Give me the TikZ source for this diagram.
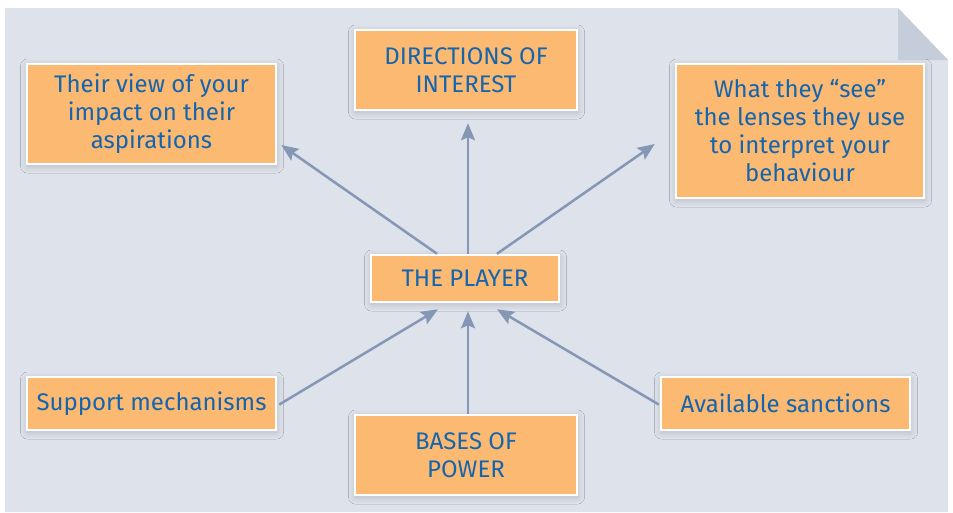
\documentclass[tikz,border=0pt]{standalone}
\usepackage{fontspec}
\setmainfont{Fira Sans}
\usepackage{tikz}
\usetikzlibrary{arrows.meta}
\usetikzlibrary{shadows.blur}
\definecolor{panel}{HTML}{DEE2EB}
\definecolor{fold}{HTML}{C6CDDA}
\definecolor{boxfill}{HTML}{FBB971}
\definecolor{boxtext}{HTML}{1565AE}
\definecolor{arrcol}{HTML}{8497B5}
\tikzset{box/.style = {fill=boxfill, draw=white, line width=2.5pt, text=boxtext,
                       align=center, inner sep=0, font=\fontsize{24}{28}\selectfont,
                       blur shadow={shadow xshift=0.5pt, shadow yshift=-2pt,
                                    shadow blur radius=7pt, shadow blur steps=16,
                                    shadow opacity=18}}}
\tikzset{arr/.style = {draw=arrcol, line width=2.5pt,
                       -{Stealth[length=17pt, width=14pt, inset=3pt]}}}

\begin{document}
\begin{tikzpicture}[x=1pt, y=-1pt]
      \useasboundingbox (0, 0) rectangle (953, 512);
      \fill [panel] (5, 8) -- (898, 8) -- (948, 60) -- (948, 512) -- (5, 512) -- cycle;
      \fill [fold] (898, 8) -- (898, 60) -- (948, 60) -- cycle;

      \node [box, minimum width=249, minimum height=100] (view) at (151.5, 114)
            {Their view of your\\impact on their\\aspirations};
      \node [box, minimum width=222, minimum height=80] (dirs) at (466, 70)
            {DIRECTIONS OF\\INTEREST};
      \node [box, minimum width=248, minimum height=134] (see) at (800, 131)
            {What they “see”\\the lenses they use\\to interpret your\\behaviour};
      \node [box, minimum width=188, minimum height=47] (player) at (465, 278.5)
            {THE PLAYER};
      \node [box, minimum width=249, minimum height=53] (support) at (151.5, 403.5)
            {Support mechanisms};
      \node [box, minimum width=222, minimum height=80] (bases) at (466, 455)
            {BASES OF\\POWER};
      \node [box, minimum width=249, minimum height=53] (sanctions) at (785.5, 403.5)
            {Available sanctions};

      % out of the player
      \draw [arr] ([xshift=-28pt]player.north) -- ([shift={(4, 31)}]view.east);
      \draw [arr] ([xshift=3pt]player.north) -- ([shift={(2, 12)}]dirs.south);
      \draw [arr] ([xshift=32pt]player.north) -- ([shift={(-20, 13)}]see.west);

      % into the player
      \draw [arr] ([shift={(2, 1)}]support.east) -- ([shift={(-27, 6)}]player.south);
      \draw [arr] ([xshift=2pt]bases.north) -- ([shift={(3, 8)}]player.south);
      \draw [arr] ([shift={(-1, 1)}]sanctions.west) -- ([shift={(32, 6)}]player.south);
    \end{tikzpicture}
\end{document}
